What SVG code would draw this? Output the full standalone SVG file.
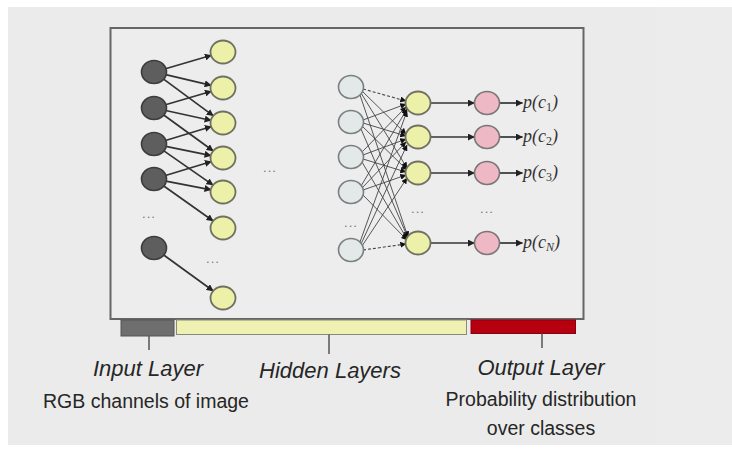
<svg xmlns="http://www.w3.org/2000/svg" width="732" height="451" viewBox="0 0 732 451">
<defs>
<marker id="ah" viewBox="0 0 10 10" refX="9.5" refY="5" markerWidth="7" markerHeight="7" markerUnits="userSpaceOnUse" orient="auto"><path d="M0,0 L10,5 L0,10 z" fill="#222"/></marker>
<marker id="ahs" viewBox="0 0 10 10" refX="9.5" refY="5" markerWidth="6" markerHeight="6" markerUnits="userSpaceOnUse" orient="auto"><path d="M0,0 L10,5 L0,10 z" fill="#111"/></marker>
<style>
.inp{fill:#5e5e5e;stroke:#3c3c3c;stroke-width:1.6}
.hid{fill:#edf0a8;stroke:#6f7060;stroke-width:1.8}
.lt{fill:#e2e9e8;stroke:#7a7f7f;stroke-width:1.6}
.out{fill:#eeb8c4;stroke:#777;stroke-width:1.6}
.c{stroke:#333;stroke-width:1.7;fill:none;marker-end:url(#ah)}
.d{stroke:#444;stroke-width:0.9;fill:none;marker-end:url(#ahs)}
.dd{stroke:#444;stroke-width:1.1;fill:none;stroke-dasharray:3 2;marker-end:url(#ahs)}
.dots{font-family:"Liberation Sans",Arial,sans-serif;font-size:13px;fill:#777;text-anchor:middle;letter-spacing:1px}
.lbl{font-family:"Liberation Sans",Arial,sans-serif;font-size:22px;font-style:italic;fill:#262626;text-anchor:middle}
.sub{font-family:"Liberation Sans",Arial,sans-serif;font-size:19.5px;fill:#262626;text-anchor:middle}
.p{font-family:"Liberation Serif","Times New Roman",serif;font-size:18px;font-style:italic;fill:#333}
.tick{stroke:#555;stroke-width:1.5}
</style>
</defs>
<rect x="0" y="0" width="732" height="451" fill="#ffffff"/>
<rect x="8" y="7" width="724" height="438" fill="#ebebeb"/>
<rect x="656" y="7" width="76" height="438" fill="#ececec"/>

<g id="frame">
<rect x="110.5" y="28" width="473" height="291" fill="#ededed" stroke="#666" stroke-width="2"/>
</g>

<g id="bars">
<rect x="121" y="320" width="53" height="16" fill="#6e6e6e" stroke="#555" stroke-width="1"/>
<rect x="176.5" y="320" width="290" height="14.5" fill="#eef1b2" stroke="#8a8a78" stroke-width="1"/>
<rect x="471" y="320" width="104.5" height="13.5" fill="#b7000f" stroke="#8a0010" stroke-width="1"/>
<line class="tick" x1="149" y1="336" x2="149" y2="350"/>
<line class="tick" x1="329" y1="334.5" x2="329" y2="354"/>
<line class="tick" x1="542" y1="333.5" x2="542" y2="348"/>
</g>

<g id="connectors">
<line class="c" x1="165.5" y1="68.7" x2="211.5" y2="55.3"/>
<line class="c" x1="165.7" y1="74.7" x2="211.3" y2="85.3"/>
<line class="c" x1="163.6" y1="79.1" x2="213.4" y2="115.9"/>
<line class="c" x1="165.5" y1="104.7" x2="211.5" y2="91.3"/>
<line class="c" x1="165.7" y1="110.5" x2="211.3" y2="120.5"/>
<line class="c" x1="163.7" y1="115" x2="213.3" y2="151"/>
<line class="c" x1="165.5" y1="140.5" x2="211.5" y2="126.5"/>
<line class="c" x1="165.8" y1="146.4" x2="211.2" y2="155.6"/>
<line class="c" x1="163.9" y1="150.9" x2="213.1" y2="185.1"/>
<line class="c" x1="165.5" y1="175.5" x2="211.5" y2="161.5"/>
<line class="c" x1="165.8" y1="181.2" x2="211.2" y2="189.8"/>
<line class="c" x1="163.8" y1="186" x2="213.2" y2="221"/>
<line class="c" x1="163.7" y1="255" x2="213.3" y2="291"/>

<line class="dd" x1="363" y1="89" x2="406" y2="101"/>
<line class="d" x1="362" y1="91" x2="406" y2="134"/>
<line class="d" x1="361" y1="93" x2="407" y2="168"/>
<line class="d" x1="360" y1="95" x2="408" y2="237"/>
<line class="d" x1="363" y1="120" x2="406" y2="104"/>
<line class="d" x1="363" y1="123" x2="406" y2="136"/>
<line class="d" x1="362" y1="126" x2="407" y2="170"/>
<line class="d" x1="361" y1="129" x2="408" y2="238"/>
<line class="d" x1="362" y1="152" x2="406" y2="107"/>
<line class="d" x1="363" y1="155" x2="406" y2="139"/>
<line class="d" x1="363" y1="159" x2="406" y2="172"/>
<line class="d" x1="362" y1="162" x2="407" y2="239"/>
<line class="d" x1="361" y1="186" x2="407" y2="109"/>
<line class="d" x1="362" y1="188" x2="406" y2="142"/>
<line class="d" x1="363" y1="190" x2="406" y2="175"/>
<line class="d" x1="363" y1="195" x2="407" y2="240"/>
<line class="d" x1="360" y1="242" x2="407" y2="111"/>
<line class="d" x1="361" y1="244" x2="407" y2="145"/>
<line class="d" x1="362" y1="246" x2="407" y2="178"/>
<line class="dd" x1="363" y1="250" x2="406" y2="244"/>

<line class="c" x1="430.5" y1="103" x2="474.5" y2="103"/>
<line class="c" x1="430.5" y1="137" x2="474.5" y2="137"/>
<line class="c" x1="430.5" y1="173" x2="474.5" y2="173"/>
<line class="c" x1="430.5" y1="243" x2="474.5" y2="243"/>
<line class="c" x1="499.5" y1="103" x2="522.5" y2="103"/>
<line class="c" x1="499.5" y1="137" x2="522.5" y2="137"/>
<line class="c" x1="499.5" y1="173" x2="522.5" y2="173"/>
<line class="c" x1="499.5" y1="243" x2="522.5" y2="243"/>
</g>

<g id="input-nodes">
<ellipse class="inp" cx="154" cy="72" rx="12.5" ry="11.5"/>
<ellipse class="inp" cx="154" cy="108" rx="12.5" ry="11.5"/>
<ellipse class="inp" cx="154" cy="144" rx="12.5" ry="11.5"/>
<ellipse class="inp" cx="154" cy="179" rx="12.5" ry="11.5"/>
<ellipse class="inp" cx="154" cy="248" rx="12.5" ry="11.5"/>
<text class="dots" x="149" y="218">...</text>
</g>

<g id="hidden-1">
<ellipse class="hid" cx="223" cy="52" rx="12.5" ry="11.5"/>
<ellipse class="hid" cx="223" cy="88" rx="12.5" ry="11.5"/>
<ellipse class="hid" cx="223" cy="123" rx="12.5" ry="11.5"/>
<ellipse class="hid" cx="223" cy="158" rx="12.5" ry="11.5"/>
<ellipse class="hid" cx="223" cy="192" rx="12.5" ry="11.5"/>
<ellipse class="hid" cx="223" cy="228" rx="12.5" ry="11.5"/>
<ellipse class="hid" cx="223" cy="298" rx="12.5" ry="11.5"/>
<text class="dots" x="213" y="263">...</text>
<text class="dots" x="270" y="172">...</text>
</g>

<g id="hidden-2">
<ellipse class="lt" cx="351" cy="87" rx="12.5" ry="11.5"/>
<ellipse class="lt" cx="351" cy="122" rx="12.5" ry="11.5"/>
<ellipse class="lt" cx="351" cy="157" rx="12.5" ry="11.5"/>
<ellipse class="lt" cx="351" cy="192" rx="12.5" ry="11.5"/>
<ellipse class="lt" cx="351" cy="250" rx="12.5" ry="11.5"/>
<text class="dots" x="351" y="227">...</text>
</g>

<g id="hidden-3">
<ellipse class="hid" cx="418" cy="103" rx="12.5" ry="11.5"/>
<ellipse class="hid" cx="418" cy="137" rx="12.5" ry="11.5"/>
<ellipse class="hid" cx="418" cy="173" rx="12.5" ry="11.5"/>
<ellipse class="hid" cx="418" cy="243" rx="12.5" ry="11.5"/>
<text class="dots" x="418" y="213">...</text>
</g>

<g id="output-nodes">
<ellipse class="out" cx="487" cy="103" rx="12.5" ry="11.5"/>
<ellipse class="out" cx="487" cy="137" rx="12.5" ry="11.5"/>
<ellipse class="out" cx="487" cy="173" rx="12.5" ry="11.5"/>
<ellipse class="out" cx="487" cy="243" rx="12.5" ry="11.5"/>
<text class="dots" x="487" y="213">...</text>
</g>

<g id="probabilities">
<text class="p" x="523" y="108">p(c<tspan font-style="normal" font-size="12" dy="3">1</tspan><tspan dy="-3">)</tspan></text>
<text class="p" x="523" y="142">p(c<tspan font-style="normal" font-size="12" dy="3">2</tspan><tspan dy="-3">)</tspan></text>
<text class="p" x="523" y="178">p(c<tspan font-style="normal" font-size="12" dy="3">3</tspan><tspan dy="-3">)</tspan></text>
<text class="p" x="523" y="248">p(c<tspan font-size="12" dy="3">N</tspan><tspan dy="-3">)</tspan></text>
</g>

<g id="labels">
<text class="lbl" x="148" y="376">Input Layer</text>
<text class="sub" x="146" y="408">RGB channels of image</text>
<text class="lbl" x="330" y="378">Hidden Layers</text>
<text class="lbl" x="541" y="375">Output Layer</text>
<text class="sub" x="541" y="406">Probability distribution</text>
<text class="sub" x="541" y="435">over classes</text>
</g>
</svg>
